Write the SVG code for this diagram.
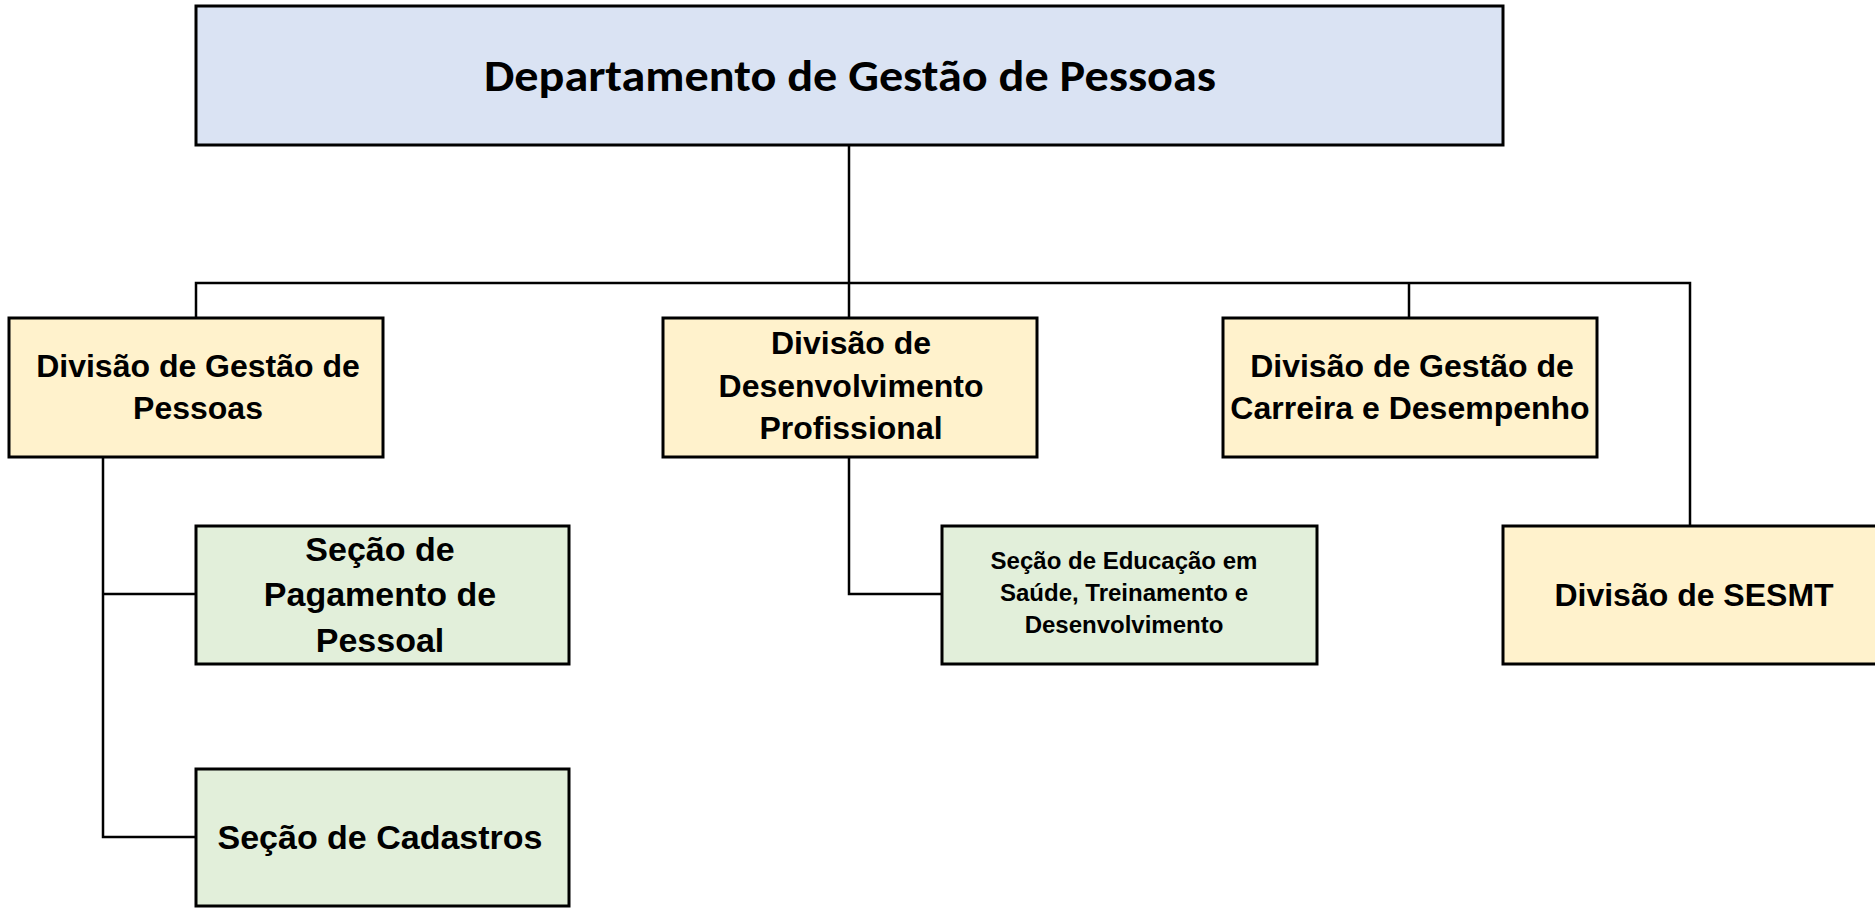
<svg xmlns="http://www.w3.org/2000/svg" width="1875" height="908" viewBox="0 0 1875 908">
<style>
.box{stroke:#000;stroke-width:3}
.top{fill:#DAE3F3}
.div{fill:#FFF2CC}
.sec{fill:#E2EFDA}
.conn{fill:none;stroke:#000;stroke-width:2.5}
text{font-family:"Liberation Sans",Arial,sans-serif;font-weight:bold;fill:#000;text-anchor:middle}
.t-title{font-family:Carlito,Lato,"Open Sans",sans-serif;font-size:44px}
.t-div{font-size:32px}
.t-sec{font-size:34px}
.t-small{font-size:24px}
</style>
<rect width="1875" height="908" fill="#fff"/>
<g id="connectors">
<path class="conn" d="M849 145V318"/>
<path class="conn" d="M196 318V283H1690V526"/>
<path class="conn" d="M1409 283V318"/>
<path class="conn" d="M103 457V837H196"/>
<path class="conn" d="M103 594H196"/>
<path class="conn" d="M849 457V594H942"/>
</g>
<g id="dept">
<rect class="box top" x="196" y="6" width="1307" height="139"/>
<text class="t-title" x="850" y="91" textLength="732" lengthAdjust="spacingAndGlyphs">Departamento de Gestão de Pessoas</text>
</g>
<g id="div-gestao-pessoas">
<rect class="box div" x="9" y="318" width="374" height="139"/>
<text class="t-div" x="198" y="377">Divisão de Gestão de</text>
<text class="t-div" x="198" y="419">Pessoas</text>
</g>
<g id="div-desenvolvimento">
<rect class="box div" x="663" y="318" width="374" height="139"/>
<text class="t-div" x="851" y="354">Divisão de</text>
<text class="t-div" x="851" y="397">Desenvolvimento</text>
<text class="t-div" x="851" y="439">Profissional</text>
</g>
<g id="div-carreira">
<rect class="box div" x="1223" y="318" width="374" height="139"/>
<text class="t-div" x="1412" y="377">Divisão de Gestão de</text>
<text class="t-div" x="1410" y="419">Carreira e Desempenho</text>
</g>
<g id="div-sesmt">
<rect class="box div" x="1503" y="526" width="374" height="138"/>
<text class="t-div" x="1694" y="606">Divisão de SESMT</text>
</g>
<g id="sec-pagamento">
<rect class="box sec" x="196" y="526" width="373" height="138"/>
<text class="t-sec" x="380" y="561">Seção de</text>
<text class="t-sec" x="380" y="606">Pagamento de</text>
<text class="t-sec" x="380" y="652">Pessoal</text>
</g>
<g id="sec-cadastros">
<rect class="box sec" x="196" y="769" width="373" height="137"/>
<text class="t-sec" x="380" y="849">Seção de Cadastros</text>
</g>
<g id="sec-educacao">
<rect class="box sec" x="942" y="526" width="375" height="138"/>
<text class="t-small" x="1124" y="569">Seção de Educação em</text>
<text class="t-small" x="1124" y="601">Saúde, Treinamento e</text>
<text class="t-small" x="1124" y="633">Desenvolvimento</text>
</g>
</svg>
